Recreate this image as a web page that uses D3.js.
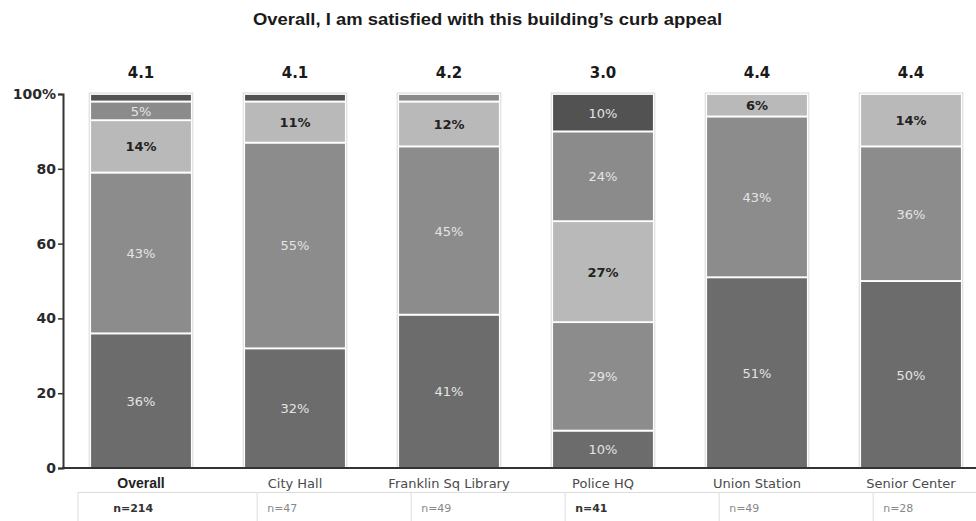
<!DOCTYPE html>
<html>
<head>
<meta charset="utf-8">
<script src="https://cdn.jsdelivr.net/npm/d3@7"></script>
<style>
  body { margin: 0; background: #fff; }
  svg { display: block; }
</style>
</head>
<body>
<svg width="976" height="521"></svg>
<script>
// Chart data
const categories = ["Overall", "City Hall", "Franklin Sq Library", "Police HQ", "Union Station", "Senior Center"];
const means = [4.1, 4.1, 4.2, 3.0, 4.4, 4.4];
const sampleSizes = [214, 47, 49, 41, 49, 28];
const responses = ["Strongly agree", "Agree", "Neutral", "Disagree", "Strongly disagree"];
const stronglyAgree = [36, 32, 41, 10, 51, 50];
const agree = [43, 55, 45, 29, 43, 36];
const neutral = [14, 11, 12, 27, 6, 14];
const disagree = [5, 0, 2, 24, 0, 0];
const stronglyDisagree = [2, 2, 0, 10, 0, 0];
const yTicks = [0, 20, 40, 60, 80, 100];

const svg = d3.select('svg');

const rows = categories.map((c, i) => ({
    category: c,
    "Strongly agree": stronglyAgree[i],
    "Agree": agree[i],
    "Neutral": neutral[i],
    "Disagree": disagree[i],
    "Strongly disagree": stronglyDisagree[i]
}));

const x = d3.scaleBand()
    .domain(categories)
    .range([64, 988])
    .paddingInner(0.34)
    .paddingOuter(0.17);

const y = d3.scaleLinear()
    .domain([0, 100])
    .range([468, 94]);

const color = d3.scaleOrdinal()
    .domain(responses)
    .range(["#6c6c6c", "#8c8c8c", "#b9b9b9", "#8b8b8b", "#525252"]);

const stack = d3.stack().keys(responses);
const series = stack(rows);

// Title
svg.append("text")
    .attr("x", 253)
    .attr("y", 25)
    .attr("textLength", 469)
    .attr("lengthAdjust", "spacingAndGlyphs")
    .style("font-family", "Liberation Sans, Arial, sans-serif")
    .style("font-weight", "bold")
    .style("font-size", "16.5px")
    .style("fill", "#1a1a1a")
    .text("Overall, I am satisfied with this building\u2019s curb appeal");

// Bars
const layer = svg.selectAll("g.layer")
    .data(series)
    .enter().append("g")
    .attr("class", "layer")
    .attr("fill", d => color(d.key));

layer.selectAll("rect")
    .data(d => d.map(v => Object.assign(v, { key: d.key })))
    .enter().append("rect")
    .attr("x", d => x(d.data.category))
    .attr("y", d => y(d[1]))
    .attr("width", x.bandwidth())
    .attr("height", d => Math.max(0, y(d[0]) - y(d[1])))
    .attr("stroke", "#fff")
    .attr("stroke-width", 1.8);

// Segment labels
layer.selectAll("text")
    .data(d => d.filter(v => v[1] - v[0] >= 5))
    .enter().append("text")
    .attr("x", d => x(d.data.category) + x.bandwidth() / 2)
    .attr("y", d => y((d[0] + d[1]) / 2) + 5)
    .attr("text-anchor", "middle")
    .style("font-family", "DejaVu Sans, Verdana, sans-serif")
    .style("font-size", "13px")
    .style("font-weight", d => d.key === "Neutral" ? "bold" : "normal")
    .style("fill", d => d.key === "Neutral" ? "#222" : "#e4e4e4")
    .text(d => (d[1] - d[0]) + "%");

// Bar outlines
svg.selectAll("rect.outline")
    .data(categories)
    .enter().append("rect")
    .attr("class", "outline")
    .attr("x", d => x(d) - 1)
    .attr("y", y(100) - 1)
    .attr("width", x.bandwidth() + 2)
    .attr("height", y(0) - y(100) + 1)
    .attr("fill", "none")
    .attr("stroke", "#d8d8d8")
    .attr("stroke-width", 1);

// Mean scores
svg.selectAll("text.mean")
    .data(categories)
    .enter().append("text")
    .attr("class", "mean")
    .attr("x", d => x(d) + x.bandwidth() / 2)
    .attr("y", 78)
    .attr("text-anchor", "middle")
    .style("font-family", "DejaVu Sans, Verdana, sans-serif")
    .style("font-weight", "bold")
    .style("font-size", "15px")
    .style("fill", "#1a1a1a")
    .text((d, i) => means[i].toFixed(1));

// Y axis
const yAxis = svg.append("g")
    .attr("transform", "translate(63,0)")
    .call(d3.axisLeft(y)
        .tickValues(yTicks)
        .tickSize(5)
        .tickPadding(2)
        .tickFormat(d => d === 100 ? "100%" : d));

yAxis.select(".domain").attr("stroke", "#333").attr("stroke-width", 2);
yAxis.selectAll(".tick line").attr("stroke", "#333").attr("stroke-width", 1.5);
yAxis.selectAll(".tick text")
    .style("font-family", "DejaVu Sans, Verdana, sans-serif")
    .style("font-weight", "bold")
    .style("font-size", "14px")
    .style("fill", "#2a2a2a");

// Baseline
svg.append("line")
    .attr("x1", 62)
    .attr("x2", 976)
    .attr("y1", y(0))
    .attr("y2", y(0))
    .attr("stroke", "#333")
    .attr("stroke-width", 2);

// Category labels
svg.selectAll("text.cat")
    .data(categories)
    .enter().append("text")
    .attr("class", "cat")
    .attr("x", d => x(d) + x.bandwidth() / 2)
    .attr("y", 488)
    .attr("text-anchor", "middle")
    .style("font-family", (d, i) => i === 0 ? "Liberation Sans, Arial, sans-serif" : "DejaVu Sans, Verdana, sans-serif")
    .style("font-weight", (d, i) => i === 0 ? "bold" : "normal")
    .style("font-size", (d, i) => i === 0 ? "14px" : "13px")
    .style("fill", (d, i) => i === 0 ? "#222" : "#4a4a4a")
    .text(d => d);

// Sample size row
svg.append("rect")
    .attr("x", 78)
    .attr("y", 492.5)
    .attr("width", 900)
    .attr("height", 30)
    .attr("fill", "#fff")
    .attr("stroke", "#dcdcdc");

svg.selectAll("line.cell")
    .data(categories.slice(1))
    .enter().append("line")
    .attr("class", "cell")
    .attr("x1", d => x(d) + 13)
    .attr("x2", d => x(d) + 13)
    .attr("y1", 492)
    .attr("y2", 521)
    .attr("stroke", "#dcdcdc");

svg.selectAll("text.n")
    .data(categories)
    .enter().append("text")
    .attr("class", "n")
    .attr("x", d => x(d) + 23)
    .attr("y", 512)
    .style("font-family", "DejaVu Sans, Verdana, sans-serif")
    .style("font-size", "11px")
    .style("font-weight", (d, i) => (i === 0 || i === 3) ? "bold" : "normal")
    .style("fill", (d, i) => (i === 0 || i === 3) ? "#333" : "#888")
    .text((d, i) => "n=" + sampleSizes[i]);
</script>
</body>
</html>
